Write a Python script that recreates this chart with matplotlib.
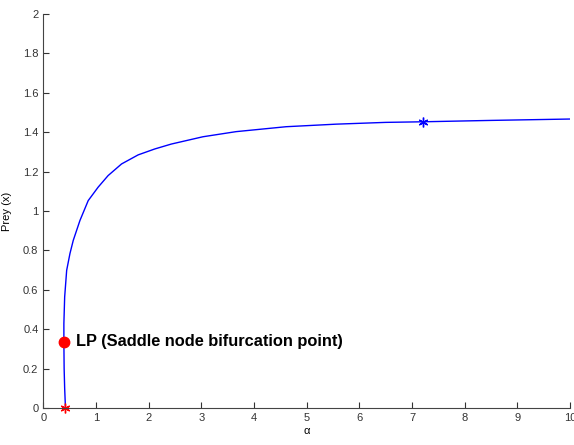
import numpy as np
import matplotlib as mpl
mpl.use('Agg')
import matplotlib.pyplot as plt

# continuation branch: bifurcation parameter alpha vs prey equilibrium
alpha = [0.42, 0.405, 0.395, 0.39, 0.39, 0.405, 0.443, 0.506, 0.568, 0.695,
         0.852, 1.04, 1.23, 1.485, 1.80, 2.115, 2.43, 3.03, 3.66, 4.61, 5.56,
         6.50, 7.2, 8.5, 10.0]
prey = [0.0, 0.1, 0.2, 0.336, 0.429, 0.564, 0.699, 0.785, 0.851, 0.952,
        1.053, 1.121, 1.18, 1.239, 1.285, 1.315, 1.34, 1.377, 1.403, 1.428,
        1.441, 1.45, 1.453, 1.46, 1.467]

start_pt = (0.42, 0.0)
end_pt = (7.2, 1.453)
lp_pt = (0.39, 0.336)

xticks = np.arange(0, 11, 1)
yticks = np.round(np.arange(0, 2.01, 0.2), 1)

plt.rcParams['font.family'] = ['Liberation Sans Narrow', 'Liberation Sans', 'DejaVu Sans']

fig = plt.figure(figsize=(5.74, 4.45), dpi=100)
ax = fig.add_axes([0.0755, 0.083, 0.9175, 0.8855])

ax.plot(alpha, prey, color='blue', lw=1)
# MATLAB-style asterisk markers at the branch ends
ax.plot(*start_pt, marker=(6, 2, 0), color='red', ms=7, mew=1, ls='none', clip_on=False)
ax.plot(*end_pt, marker=(6, 2, 0), color='blue', ms=7, mew=1, ls='none')
ax.plot(*lp_pt, marker='o', color='red', ms=7.5, ls='none')
ax.text(lp_pt[0] + 0.23, lp_pt[1], 'LP (Saddle node bifurcation point)',
        fontsize=11.8, fontweight='bold', va='center', ha='left')

ax.set_xlim(0, 10)
ax.set_ylim(0, 2)
ax.set_xticks(xticks)
ax.set_xticklabels([str(t) for t in xticks])
ax.set_yticks(yticks)
ax.set_yticklabels([('%g' % t) for t in yticks])
ax.tick_params(direction='in', length=4, labelsize=8, colors='#333333')
ax.spines['top'].set_visible(False)
ax.spines['right'].set_visible(False)
for s in ['left', 'bottom']:
    ax.spines[s].set_color('#444444')
ax.set_xlabel('α', fontsize=8, labelpad=2)
ax.set_ylabel('Prey (x)', fontsize=8, labelpad=8)

plt.savefig('out.png', dpi=100)
